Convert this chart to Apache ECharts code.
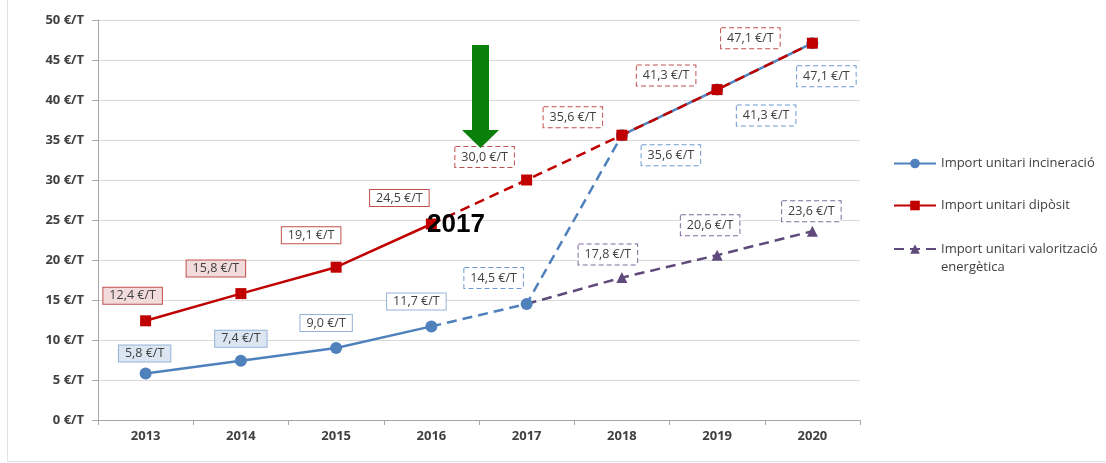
<!DOCTYPE html>
<html><head><meta charset="utf-8">
<script src="https://cdn.jsdelivr.net/npm/echarts@6/dist/echarts.min.js"></script>
<style>html,body{margin:0;padding:0;background:#fff}#c{width:1106px;height:463px}</style>
</head><body><div id="c"></div>
<script>
const years = ['2013','2014','2015','2016','2017','2018','2019','2020'];
const incineracio = [5.8, 7.4, 9.0, 11.7, 14.5, 35.6, 41.3, 47.1];
const diposit = [12.4, 15.8, 19.1, 24.5, 30.0, 35.6, 41.3, 47.1];
const valoritzacio = [null, null, null, null, 14.5, 17.8, 20.6, 23.6];
const yTicks = [0, 5, 10, 15, 20, 25, 30, 35, 40, 45, 50];
const lastActual = 3;   // 2016: last solid point
const mergeIndex = 5;   // 2018: incineració joins dipòsit
const names = ['Import unitari incineració', 'Import unitari dipòsit', 'Import unitari valorització energètica'];

// label offsets (style only)
const offInc = [[-1,-20],[0,-22],[-10,-25],[-15,-25],[-33,-26],[49,20],[49,26],[14,33]];
const offDep = [[-13,-25],[-25,-25],[-25,-32],[-32,-26],[-42,-23],[-49,-18],[-51,-14],[-62,-5]];
const offVal = [null,null,null,null,null,[-14,-23],[-7,-30],[-1,-20]];

const C_BLUE = '#4f81bd', C_RED = '#c00000', C_PUR = '#604a7b';
const fmt = p => p.value.toFixed(1).replace('.', ',') + ' €/T';
const baseLabel = {show:true, position:'inside', formatter: fmt, color:'#404040',
  fontFamily:'Open Sans', fontSize:12.5, borderWidth:1, align:'center', verticalAlign:'middle'};

function lbl(off, border, fill, dashed){
  return Object.assign({}, baseLabel, {offset: off, borderColor: border, backgroundColor: fill,
    padding: dashed ? [4,6,3,6] : [2,6,1,6], borderType: dashed ? [5,3] : 'solid'});
}
function solidPart(vals, offs, border, fills){
  return vals.map((v,i) => i <= lastActual ? {value:v, label: lbl(offs[i], border, fills[i], false)} : '-');
}
function dashedPart(vals, offs, border, from, to){
  return vals.map((v,i) => {
    if (i < from || i > to || v == null) return '-';
    if (i === from) return {value:v, symbol:'none', label:{show:false}};
    return {value:v, label: lbl(offs[i], border, '#fff', true)};
  });
}

const chart = echarts.init(document.getElementById('c'));
const legendBase = {orient:'vertical', left:888, itemWidth:42, itemHeight:12,
  textStyle:{fontFamily:'Open Sans', fontSize:13, color:'#404040'}, selectedMode:false};

const option = {
  animation:false,
  backgroundColor:'#fff',
  grid:{left:98, right:246, top:20, bottom:43},
  legend:[
    Object.assign({}, legendBase, {top:152, data:[names[0]]}),
    Object.assign({}, legendBase, {top:194, data:[names[1]]}),
    Object.assign({}, legendBase, {top:217, data:[names[2]],
      formatter: () => '\nImport unitari valorització\nenergètica',
      textStyle:{fontFamily:'Open Sans', fontSize:13, color:'#404040', lineHeight:18}})
  ],
  xAxis:{type:'category', data:years, boundaryGap:true,
    axisLine:{lineStyle:{color:'#a6a6a6'}},
    axisTick:{show:true, length:5, lineStyle:{color:'#a6a6a6'}},
    axisLabel:{fontFamily:'Open Sans', fontWeight:'bold', fontSize:13, color:'#404040', margin:10}},
  yAxis:{type:'value', min:yTicks[0], max:yTicks[yTicks.length-1], interval:yTicks[1]-yTicks[0],
    axisLine:{show:true, lineStyle:{color:'#a6a6a6'}},
    axisTick:{show:true, length:6, lineStyle:{color:'#a6a6a6'}},
    splitLine:{lineStyle:{color:'#d9d9d9'}},
    axisLabel:{formatter:'{value} €/T', fontFamily:'Open Sans', fontWeight:'bold', fontSize:13, color:'#404040', margin:14}},
  series:[
    {name:names[2], type:'line', z:2, data: valoritzacio.map((v,i)=> v==null ? '-' : (i===4 ? {value:v, symbol:'none', label:{show:false}} : {value:v, label: lbl(offVal[i], '#7f6a9c', '#fff', true)})),
      symbol:'triangle', symbolSize:11, itemStyle:{color:C_PUR}, lineStyle:{color:C_PUR, width:2.5, type:[10,6]}},
    {name:names[0], type:'line', z:3, data: solidPart(incineracio, offInc, '#95b3d7', ['#dce6f2','#dce6f2','#fff','#fff']),
      symbol:'circle', symbolSize:12, itemStyle:{color:C_BLUE}, lineStyle:{color:C_BLUE, width:2.5}},
    {name:names[0], type:'line', z:3, data: dashedPart(incineracio, offInc, '#6d9ad0', lastActual, mergeIndex),
      symbol:'circle', symbolSize:12, itemStyle:{color:C_BLUE}, lineStyle:{color:C_BLUE, width:2.5, type:[10,6]}},
    {name:names[0], type:'line', z:3, data: dashedPart(incineracio, offInc, '#6d9ad0', mergeIndex, years.length-1),
      symbol:'circle', symbolSize:12, itemStyle:{color:C_BLUE}, lineStyle:{color:C_BLUE, width:2.5}},
    {name:names[1], type:'line', z:4, data: solidPart(diposit, offDep, '#c0504d', ['#f2dcdb','#f2dcdb','#fff','#fff']),
      symbol:'rect', symbolSize:11, itemStyle:{color:C_RED}, lineStyle:{color:C_RED, width:2.5}},
    {name:names[1], type:'line', z:4, data: dashedPart(diposit, offDep, '#c0504d', lastActual, years.length-1),
      symbol:'rect', symbolSize:11, itemStyle:{color:C_RED}, lineStyle:{color:C_RED, width:2.5, type:[10,6]}}
  ],
  graphic:[
    {type:'line', shape:{x1:7.5, y1:0, x2:7.5, y2:461.5}, style:{stroke:'#e3e3e3', lineWidth:1}, silent:true},
    {type:'line', shape:{x1:7.5, y1:461.5, x2:1106, y2:461.5}, style:{stroke:'#e3e3e3', lineWidth:1}, silent:true},
    {type:'polygon', z:100, shape:{points:[[472,45],[489,45],[489,130],[499,130],[480.5,148],[462,130],[472,130]]},
      style:{fill:'#0a7f0a'}, silent:true},
    {type:'text', z:100, x:456, y:225, style:{text:'2017', font:'bold 26px "Liberation Sans", Arial, sans-serif',
      fill:'#000', align:'center', verticalAlign:'middle'}, silent:true}
  ]
};
chart.setOption(option);
</script>
</body></html>
